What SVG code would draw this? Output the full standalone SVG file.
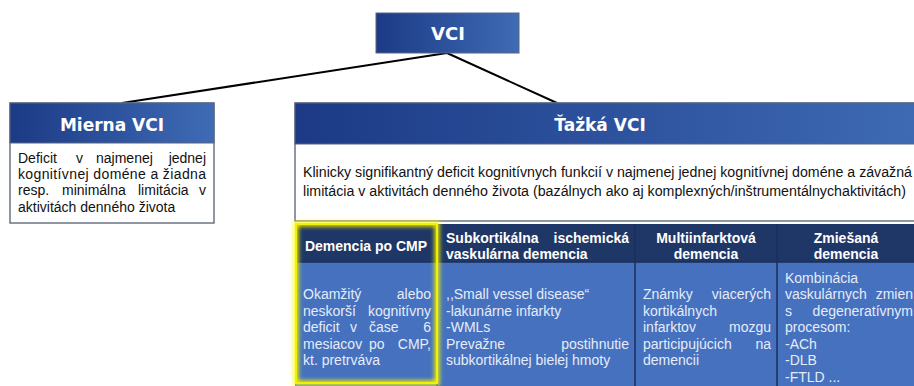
<svg xmlns="http://www.w3.org/2000/svg" width="914" height="386" viewBox="0 0 914 386">
<defs>
<linearGradient id="hdr" x1="0" y1="0" x2="1" y2="0">
<stop offset="0" stop-color="#1c3a86"/>
<stop offset="1" stop-color="#3f6bb5"/>
</linearGradient>
<filter id="glow" x="-10%" y="-10%" width="120%" height="120%">
<feGaussianBlur stdDeviation="2.2"/>
</filter>
<style>
.title{font-family:"DejaVu Sans",Verdana,sans-serif;font-weight:bold;fill:#ffffff;text-anchor:middle}
.body{font-family:"Liberation Sans",Arial,sans-serif;font-size:14px;fill:#111111}
.th{font-family:"Liberation Sans",Arial,sans-serif;font-size:14px;font-weight:bold;fill:#ffffff}
.td{font-family:"Liberation Sans",Arial,sans-serif;font-size:14px;fill:#e6ecf8}
.c{text-anchor:middle}
.e{text-anchor:end}
.hbox{fill:url(#hdr);stroke:#5a6580;stroke-width:1}
.wbox{fill:#ffffff;stroke:#6b7385;stroke-width:1.5}
.div{stroke:#1b2f5c;stroke-width:1.5}
</style>
</defs>

<g id="connectors" stroke="#000000" stroke-width="2" fill="none">
<line x1="447" y1="53" x2="122" y2="103"/>
<line x1="447" y1="53" x2="557" y2="103"/>
</g>

<g id="vci">
<rect class="hbox" x="376" y="13" width="143" height="40"/>
<text class="title" x="448" y="40" font-size="18">VCI</text>
</g>

<g id="mierna">
<rect class="wbox" x="10" y="103" width="204" height="120"/>
<rect class="hbox" x="10" y="103" width="204" height="40"/>
<text class="title" x="112" y="131" font-size="17">Mierna VCI</text>
<text class="body" x="18" y="163">Deficit</text>
<text class="body" x="76" y="163">v</text>
<text class="body" x="96" y="163">najmenej</text>
<text class="body e" x="206" y="163">jednej</text>
<text class="body" x="18" y="179" textLength="188" lengthAdjust="spacing">kognitívnej doméne a žiadna</text>
<text class="body" x="18" y="195">resp.</text>
<text class="body" x="62" y="195">minimálna</text>
<text class="body" x="138" y="195">limitácia</text>
<text class="body e" x="206" y="195">v</text>
<text class="body" x="18" y="212">aktivitách denného života</text>
</g>

<g id="tazka">
<rect class="wbox" x="295" y="103" width="640" height="118"/>
<rect class="hbox" x="295" y="103" width="640" height="41"/>
<text class="title" x="600" y="131" font-size="17">Ťažká VCI</text>
<text class="body" x="303" y="177" textLength="609" lengthAdjust="spacingAndGlyphs">Klinicky signifikantný deficit kognitívnych funkcií v najmenej jednej kognitívnej doméne a závažná</text>
<text class="body" x="303" y="196" textLength="603" lengthAdjust="spacingAndGlyphs">limitácia v aktivitách denného života (bazálnych ako aj komplexných/inštrumentálnychaktivitách)</text>
</g>

<g id="table">
<rect x="295" y="224" width="640" height="38" fill="#1f3766"/>
<rect x="295" y="262" width="640" height="130" fill="#4571bf"/>
<line class="div" x1="295" y1="262" x2="914" y2="262"/>
<line class="div" x1="437" y1="224" x2="437" y2="386"/>
<line class="div" x1="635" y1="224" x2="635" y2="386"/>
<line class="div" x1="777" y1="224" x2="777" y2="386"/>
</g>

<g id="col-cmp">
<rect x="296" y="224" width="141" height="159" fill="none" stroke="#ffff00" stroke-width="5" filter="url(#glow)" opacity="0.9"/>
<rect x="296" y="224" width="141" height="159" fill="none" stroke="#f4f000" stroke-width="2"/>
<text class="th c" x="366" y="251">Demencia po CMP</text>
<text class="td" x="303" y="299">Okamžitý</text>
<text class="td e" x="431" y="299">alebo</text>
<text class="td" x="303" y="315.5">neskorší</text>
<text class="td e" x="431" y="315.5">kognitívny</text>
<text class="td" x="303" y="332">deficit</text>
<text class="td" x="350" y="332">v</text>
<text class="td" x="369" y="332">čase</text>
<text class="td e" x="431" y="332">6</text>
<text class="td" x="303" y="348.5">mesiacov</text>
<text class="td" x="369" y="348.5">po</text>
<text class="td e" x="431" y="348.5">CMP,</text>
<text class="td" x="303" y="365">kt. pretrváva</text>
</g>

<g id="col-subkort">
<text class="th" x="446" y="243">Subkortikálna</text>
<text class="th e" x="629" y="243">ischemická</text>
<text class="th" x="446" y="259">vaskulárna demencia</text>
<text class="td" x="446" y="299">,,Small vessel disease“</text>
<text class="td" x="446" y="315.5">-lakunárne infarkty</text>
<text class="td" x="446" y="332">-WMLs</text>
<text class="td" x="446" y="348.5">Prevažne</text>
<text class="td e" x="629" y="348.5">postihnutie</text>
<text class="td" x="446" y="365">subkortikálnej bielej hmoty</text>
</g>

<g id="col-multi">
<text class="th c" x="706" y="243">Multiinfarktová</text>
<text class="th c" x="706" y="259">demencia</text>
<text class="td" x="643" y="299">Známky</text>
<text class="td e" x="771" y="299">viacerých</text>
<text class="td" x="643" y="315.5">kortikálnych</text>
<text class="td" x="643" y="332">infarktov</text>
<text class="td e" x="771" y="332">mozgu</text>
<text class="td" x="643" y="348.5">participujúcich</text>
<text class="td e" x="771" y="348.5">na</text>
<text class="td" x="643" y="365">demencii</text>
</g>

<g id="col-zmiesana">
<text class="th c" x="846" y="243">Zmiešaná</text>
<text class="th c" x="846" y="259">demencia</text>
<text class="td" x="785" y="282.5">Kombinácia</text>
<text class="td" x="785" y="299">vaskulárnych</text>
<text class="td e" x="913" y="299">zmien</text>
<text class="td" x="785" y="315.5">s</text>
<text class="td e" x="913" y="315.5">degeneratívnym</text>
<text class="td" x="785" y="332">procesom:</text>
<text class="td" x="785" y="348.5">-ACh</text>
<text class="td" x="785" y="365">-DLB</text>
<text class="td" x="785" y="381.5">-FTLD ...</text>
</g>
</svg>
